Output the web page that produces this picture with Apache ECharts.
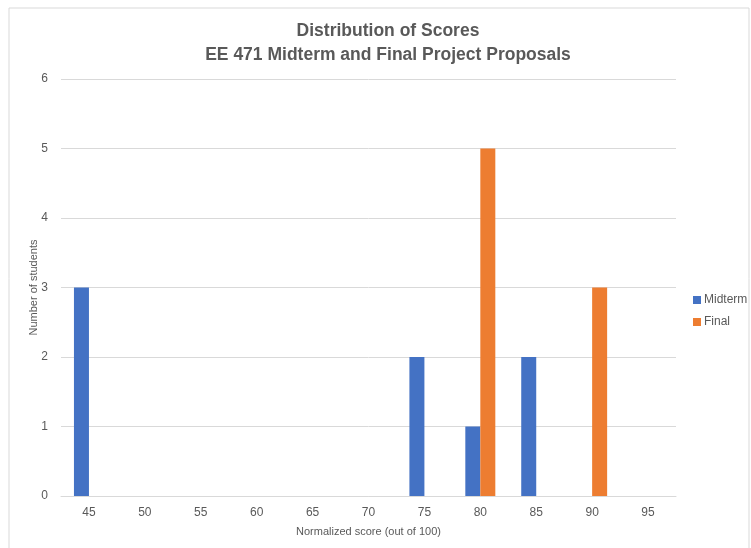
<!DOCTYPE html>
<html lang="en">
<head>
    <meta charset="UTF-8">
    <title>Distribution of Scores</title>
    <script src="https://cdn.jsdelivr.net/npm/echarts@6/dist/echarts.min.js"></script>
    <style>
        html, body { margin: 0; padding: 0; background: #fff; }
    </style>
</head>
<body>
    <div id="main" style="width: 751px; height: 548px;"></div>
    <script>
        var scores = ['45', '50', '55', '60', '65', '70', '75', '80', '85', '90', '95'];
        var midterm = [3, 0, 0, 0, 0, 0, 2, 1, 2, 0, 0];
        var final = [0, 0, 0, 0, 0, 0, 0, 5, 0, 3, 0];
        var yTicks = [0, 1, 2, 3, 4, 5, 6];

        var myChart = echarts.init(document.getElementById('main'));
        var textColor = '#595959';
        var font = 'Liberation Sans';

        var option = {
            animation: false,
            title: {
                text: 'Distribution of Scores\nEE 471 Midterm and Final Project Proposals',
                left: 383,
                top: 14,
                textAlign: 'center',
                textStyle: {
                    fontFamily: font,
                    fontSize: 17.5,
                    fontWeight: 'bold',
                    color: textColor,
                    lineHeight: 24
                }
            },
            legend: {
                orient: 'vertical',
                left: 688,
                top: 289,
                itemWidth: 8,
                itemHeight: 8,
                itemGap: 10,
                icon: 'rect',
                textStyle: { fontFamily: font, fontSize: 12, color: textColor, padding: [0, 0, 0, -2] },
                data: ['Midterm', 'Final']
            },
            graphic: [{
                type: 'rect',
                shape: { x: 9, y: 8, width: 740, height: 545 },
                style: { fill: 'none', stroke: '#d9d9d9', lineWidth: 1 },
                silent: true
            }],
            grid: {
                left: 61,
                right: 75,
                top: 79,
                bottom: 52
            },
            xAxis: {
                type: 'category',
                data: scores,
                name: 'Normalized score (out of 100)',
                nameLocation: 'middle',
                nameGap: 30,
                nameTextStyle: { fontFamily: font, fontSize: 11, color: textColor },
                axisLine: { lineStyle: { color: '#d9d9d9' } },
                axisTick: { show: false },
                axisLabel: { fontFamily: font, fontSize: 12, color: textColor, margin: 11 }
            },
            yAxis: {
                type: 'value',
                min: yTicks[0],
                max: yTicks[yTicks.length - 1],
                interval: 1,
                name: 'Number of students',
                nameLocation: 'middle',
                nameGap: 22,
                nameMoveOverlap: false,
                nameRotate: 90,
                nameTextStyle: { fontFamily: font, fontSize: 11, color: textColor },
                axisLine: { show: false },
                axisTick: { show: false },
                axisLabel: { fontFamily: font, fontSize: 12, color: textColor, margin: 13 },
                splitLine: { lineStyle: { color: '#d9d9d9' } }
            },
            series: [{
                name: 'Midterm',
                type: 'bar',
                data: midterm,
                barWidth: 15,
                barGap: 0,
                itemStyle: { color: '#4472C4' }
            }, {
                name: 'Final',
                type: 'bar',
                data: final,
                barWidth: 15,
                barGap: 0,
                itemStyle: { color: '#ED7D31' }
            }]
        };
        myChart.setOption(option);
    </script>
</body>
</html>
